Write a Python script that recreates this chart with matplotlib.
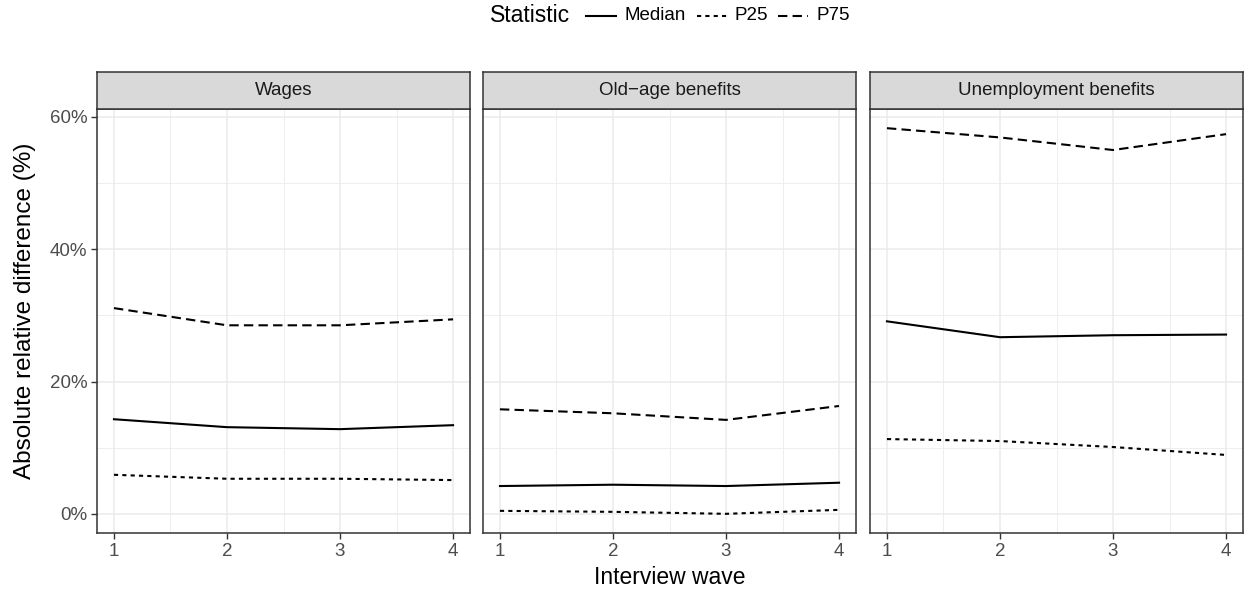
import matplotlib.pyplot as plt
from matplotlib.ticker import FuncFormatter
from matplotlib.lines import Line2D

plt.rcParams['font.family'] = ['Liberation Sans', 'DejaVu Sans']

# data
waves = [1, 2, 3, 4]
panels = ['Wages', 'Old\u2212age benefits', 'Unemployment benefits']
median = [[14.3, 13.1, 12.8, 13.4],
          [4.2, 4.4, 4.2, 4.7],
          [29.1, 26.7, 27.0, 27.1]]
p25 = [[5.9, 5.3, 5.3, 5.1],
       [0.45, 0.3, 0.0, 0.6],
       [11.3, 11.0, 10.1, 8.9]]
p75 = [[31.1, 28.5, 28.5, 29.4],
       [15.8, 15.2, 14.2, 16.3],
       [58.3, 56.9, 55.0, 57.4]]

W, H = 1244, 593
fig = plt.figure(figsize=(W / 100, H / 100), dpi=100)

styles = {'Median': '-', 'P25': (0, (2, 2)), 'P75': (0, (4.5, 2.5))}
lefts = [97, 483, 870]
pw = 373
top, bot, strip_top = 109, 533, 72

for i, name in enumerate(panels):
    l = lefts[i]
    ax = fig.add_axes([l / W, 1 - bot / H, pw / W, (bot - top) / H])
    for lab, vals in [('Median', median[i]), ('P25', p25[i]), ('P75', p75[i])]:
        ax.plot(waves, vals, color='black', lw=1.5, linestyle=styles[lab])
    ax.set_xlim(0.85, 4.15)
    ax.set_ylim(-2.9, 61.2)
    ax.set_xticks(waves)
    ax.set_xticks([1.5, 2.5, 3.5], minor=True)
    ax.set_yticks([0, 20, 40, 60])
    ax.set_yticks([10, 30, 50], minor=True)
    ax.grid(which='major', color='#EBEBEB', lw=1.1)
    ax.grid(which='minor', color='#EBEBEB', lw=0.6)
    ax.set_axisbelow(True)
    ax.yaxis.set_major_formatter(FuncFormatter(lambda v, p: '%d%%' % v))
    ax.tick_params(which='major', length=4, width=1, color='#333333',
                   labelsize=13.5, labelcolor='#4D4D4D', pad=3)
    ax.tick_params(which='minor', length=0)
    if i > 0:
        ax.tick_params(axis='y', which='major', length=0, labelleft=False)
    for s in ax.spines.values():
        s.set_color('#333333')
        s.set_linewidth(1.1)
    # strip
    sax = fig.add_axes([l / W, 1 - top / H, pw / W, (top - strip_top) / H])
    sax.set_facecolor('#D9D9D9')
    sax.set_xticks([])
    sax.set_yticks([])
    for s in sax.spines.values():
        s.set_color('#333333')
        s.set_linewidth(1.1)
    sax.text(0.5, 0.5, name, ha='center', va='center', fontsize=13.5,
             color='#1A1A1A', transform=sax.transAxes)

fig.text(25 / W, 1 - 311 / H, 'Absolute relative difference (%)', rotation=90,
         ha='center', va='center', fontsize=17.5)
fig.text(670 / W, 1 - 578 / H, 'Interview wave', ha='center', va='center', fontsize=16.5)

# legend on top, drawn by hand
ly = 1 - 16 / H
fig.text(490 / W, ly, 'Statistic', ha='left', va='center', fontsize=16.5)
keys = [('Median', 586, 624), ('P25', 697, 735), ('P75', 778, 817)]
for k, x0, xt in keys:
    fig.add_artist(Line2D([x0 / W, (x0 + 30) / W], [ly, ly], color='black', lw=1.5,
                          linestyle=styles[k], transform=fig.transFigure))
    fig.text(xt / W, ly, k, ha='left', va='center', fontsize=13.5)

fig.savefig('out.png', dpi=100)
